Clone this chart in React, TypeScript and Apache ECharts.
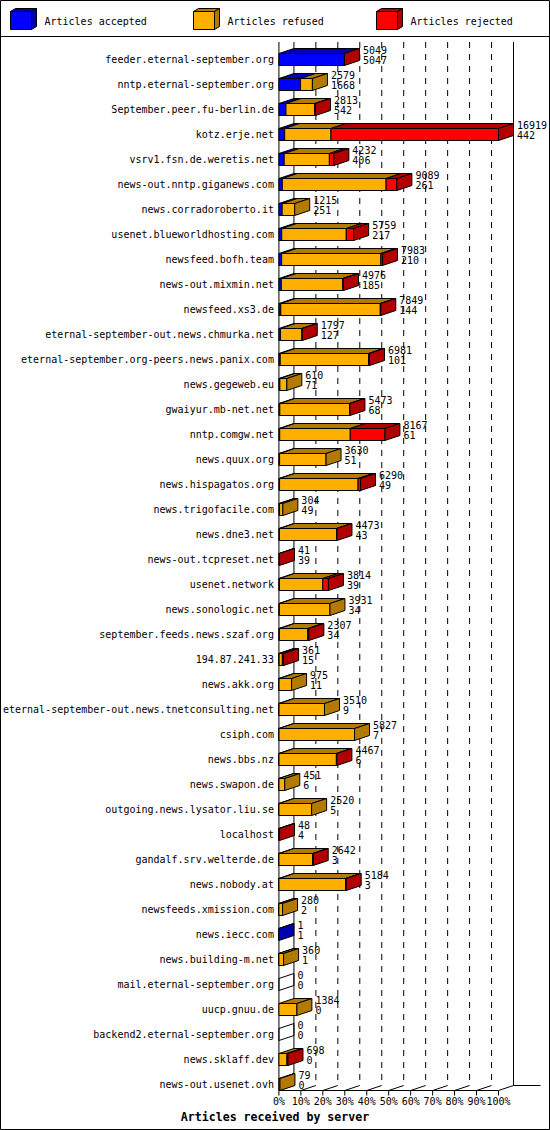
import React, { useEffect, useRef } from 'react';
import * as echarts from 'echarts';

const hosts = [
  'feeder.eternal-september.org',
  'nntp.eternal-september.org',
  'September.peer.fu-berlin.de',
  'kotz.erje.net',
  'vsrv1.fsn.de.weretis.net',
  'news-out.nntp.giganews.com',
  'news.corradoroberto.it',
  'usenet.blueworldhosting.com',
  'newsfeed.bofh.team',
  'news-out.mixmin.net',
  'newsfeed.xs3.de',
  'eternal-september-out.news.chmurka.net',
  'eternal-september.org-peers.news.panix.com',
  'news.gegeweb.eu',
  'gwaiyur.mb-net.net',
  'nntp.comgw.net',
  'news.quux.org',
  'news.hispagatos.org',
  'news.trigofacile.com',
  'news.dne3.net',
  'news-out.tcpreset.net',
  'usenet.network',
  'news.sonologic.net',
  'september.feeds.news.szaf.org',
  '194.87.241.33',
  'news.akk.org',
  'eternal-september-out.news.tnetconsulting.net',
  'csiph.com',
  'news.bbs.nz',
  'news.swapon.de',
  'outgoing.news.lysator.liu.se',
  'localhost',
  'gandalf.srv.welterde.de',
  'news.nobody.at',
  'newsfeeds.xmission.com',
  'news.iecc.com',
  'news.building-m.net',
  'mail.eternal-september.org',
  'uucp.gnuu.de',
  'backend2.eternal-september.org',
  'news.sklaff.dev',
  'news-out.usenet.ovh',
];

// articles offered (upper number) and accepted (lower number)
const totals = [
  5049, 2579, 2813, 16919, 4232, 9089, 1215, 5759, 7983, 4976, 7849, 1797, 6981, 610,
  5473, 8167, 3630, 6290, 304, 4473, 41, 3814, 3931, 2307, 361, 975, 3510, 5827, 4467,
  451, 2520, 48, 2642, 5184, 280, 1, 360, 0, 1384, 0, 698, 79,
];
const accepted = [
  5047, 1668, 542, 442, 406, 261, 251, 217, 210, 185, 144, 127, 101, 71, 68, 61, 51, 49,
  49, 43, 39, 39, 34, 34, 15, 11, 9, 7, 6, 6, 5, 4, 3, 3, 2, 1, 1, 0, 0, 0, 0, 0,
];
const refused = [
  0, 911, 2221, 3570, 3481, 7996, 964, 4973, 7643, 4731, 7665, 1650, 6800, 539, 5375,
  5436, 3579, 6050, 255, 4400, 0, 3340, 3897, 2193, 250, 964, 3501, 5820, 4421, 445,
  2515, 0, 2589, 5131, 278, 0, 359, 0, 1384, 0, 620, 79,
];
const rejected = [
  2, 0, 50, 12907, 345, 832, 0, 569, 130, 60, 40, 20, 80, 0, 30, 2670, 0, 191, 0, 30, 2,
  435, 0, 80, 96, 0, 0, 0, 40, 0, 0, 44, 50, 50, 0, 0, 0, 0, 0, 0, 78, 0,
];

const seriesNames = ['Articles accepted', 'Articles refused', 'Articles rejected'];
const frontColors = ['#0000ff', '#ffaf00', '#ff0000'];
const darkColors = ['#0000b2', '#b27a00', '#b20000'];
const pctTicks = [0, 10, 20, 30, 40, 50, 60, 70, 80, 90, 100];

const FONT = '"DejaVu Sans Mono", "Liberation Mono", monospace';
const DX = 15;
const DY = 5;

const App: React.FC = () => {
  const chartRef = useRef<HTMLDivElement>(null);

  useEffect(() => {
    if (!chartRef.current) return;
    const chart = echarts.init(chartRef.current, undefined, { renderer: 'svg' });
    const maxTotal = Math.max(...totals);
    const pct = (v: number) => (v / maxTotal) * 100;
    const lastRow = hosts.length - 1;

    const renderFrame = (_params: any, api: any) => {
      const band = api.size([0, 1])[1];
      const hh = band * 0.24;
      const yTop = api.coord([0, 0])[1] - band * 0.7;
      const floorFront = api.coord([0, lastRow])[1] + hh;
      const floorBack = floorFront - DY;
      const children: any[] = [];
      const line = (x1: number, y1: number, x2: number, y2: number, dash?: number[]) =>
        children.push({
          type: 'line',
          shape: { x1, y1, x2, y2 },
          style: { stroke: '#000', lineWidth: 1, lineDash: dash },
        });
      pctTicks.forEach((p, k) => {
        const x = api.coord([p, 0])[0];
        const solid = k === 0 || k === pctTicks.length - 1;
        line(x + DX, yTop, x + DX, floorBack, solid ? undefined : [6, 6]);
        line(x, floorFront, x + DX, floorBack);
        line(x, floorFront, x, floorFront + 5);
      });
      const x0 = api.coord([0, 0])[0];
      const x100 = api.coord([100, 0])[0];
      line(x0, yTop, x0, floorFront);
      line(x0, floorFront, x100, floorFront);
      line(x100 + DX, floorBack, x100 + DX + 27, floorBack);
      return { type: 'group', children };
    };

    const renderBar = (_params: any, api: any) => {
      const row = api.value(0);
      const vals = [api.value(1), api.value(2), api.value(3)];
      const total = api.value(4);
      const band = api.size([0, 1])[1];
      const hh = band * 0.24;
      const yc = api.coord([0, row])[1];
      const top = yc - hh;
      const bot = yc + hh;
      const children: any[] = [];
      let cum = 0;
      let last = -1;
      vals.forEach((v: number, k: number) => {
        if (v <= 0) return;
        const xa = api.coord([pct(cum), row])[0];
        cum += v;
        const xb = api.coord([pct(cum), row])[0];
        last = k;
        children.push({
          type: 'rect',
          shape: { x: xa, y: top, width: xb - xa, height: bot - top },
          style: { fill: frontColors[k], stroke: '#000', lineWidth: 1 },
        });
        children.push({
          type: 'polygon',
          shape: { points: [[xa, top], [xb, top], [xb + DX, top - DY], [xa + DX, top - DY]] },
          style: { fill: darkColors[k], stroke: '#000', lineWidth: 1 },
        });
      });
      const xe = api.coord([pct(cum), row])[0];
      children.push({
        type: 'polygon',
        shape: { points: [[xe, top], [xe + DX, top - DY], [xe + DX, bot - DY], [xe, bot]] },
        style: { fill: last >= 0 ? darkColors[last] : 'none', stroke: '#000', lineWidth: 1 },
      });
      const tx = xe + DX + 3.5;
      children.push({
        type: 'text',
        style: {
          text: String(total), x: tx, y: yc - 9.5, fill: '#000',
          fontFamily: FONT, fontSize: 10, verticalAlign: 'middle', align: 'left',
        },
      });
      children.push({
        type: 'text',
        style: {
          text: String(api.value(5)), x: tx, y: yc + 1, fill: '#000',
          fontFamily: FONT, fontSize: 10, verticalAlign: 'middle', align: 'left',
        },
      });
      return { type: 'group', children };
    };

    const legendGraphics: any[] = [];
    [10.5, 193.5, 376.5].forEach((lx, k) => {
      legendGraphics.push({
        type: 'polygon',
        shape: { points: [[lx, 11.5], [lx + 21, 11.5], [lx + 26, 8.5], [lx + 5, 8.5]] },
        style: { fill: darkColors[k], stroke: '#000', lineWidth: 1 },
      });
      legendGraphics.push({
        type: 'polygon',
        shape: { points: [[lx + 21, 11.5], [lx + 26, 8.5], [lx + 26, 26.5], [lx + 21, 29.5]] },
        style: { fill: darkColors[k], stroke: '#000', lineWidth: 1 },
      });
      legendGraphics.push({
        type: 'rect',
        shape: { x: lx, y: 11.5, width: 21, height: 18 },
        style: { fill: frontColors[k], stroke: '#000', lineWidth: 1 },
      });
      legendGraphics.push({
        type: 'text',
        style: {
          text: seriesNames[k], x: lx + 34, y: 21, fill: '#000',
          fontFamily: FONT, fontSize: 10, verticalAlign: 'middle', align: 'left',
        },
      });
    });

    const option: any = {
      animation: false,
      backgroundColor: '#fff',
      title: {
        text: 'Articles received by server',
        left: 'center',
        top: 1111,
        padding: 0,
        textStyle: { fontFamily: FONT, fontSize: 11.6, fontWeight: 'bold', color: '#000', lineHeight: 12 },
      },
      grid: { left: 278.5, top: 47, width: 220, height: 1050, containLabel: false },
      xAxis: {
        type: 'value',
        min: 0,
        max: 100,
        interval: 10,
        axisLine: { show: false },
        axisTick: { show: false },
        splitLine: { show: false },
        axisLabel: { formatter: '{value}%', fontFamily: FONT, fontSize: 10, color: '#000', margin: -1 },
      },
      yAxis: {
        type: 'category',
        data: hosts,
        inverse: true,
        axisLine: { show: false },
        axisTick: { show: false },
        axisLabel: { interval: 0, fontFamily: FONT, fontSize: 10, color: '#000', margin: 5 },
      },
      graphic: [
        { type: 'rect', shape: { x: 0.5, y: 0.5, width: 549, height: 1129 }, style: { fill: 'none', stroke: '#000', lineWidth: 1 } },
        { type: 'line', shape: { x1: 0, y1: 36.5, x2: 550, y2: 36.5 }, style: { stroke: '#000', lineWidth: 1 } },
        ...legendGraphics,
      ],
      series: [
        {
          type: 'custom',
          name: 'frame',
          silent: true,
          clip: false,
          z: 1,
          renderItem: renderFrame,
          data: [[0, 0]],
        },
        {
          type: 'custom',
          name: 'bars',
          silent: true,
          clip: false,
          z: 2,
          renderItem: renderBar,
          encode: { y: 0 },
          data: hosts.map((_, i) => [i, accepted[i], refused[i], rejected[i], totals[i], accepted[i]]),
        },
      ],
    };

    chart.setOption(option);
    return () => {
      chart.dispose();
    };
  }, []);

  return (
    <div
      ref={chartRef}
      style={{ position: 'absolute', left: 0, top: 0, width: 550, height: 1130 }}
    />
  );
};

export default App;
